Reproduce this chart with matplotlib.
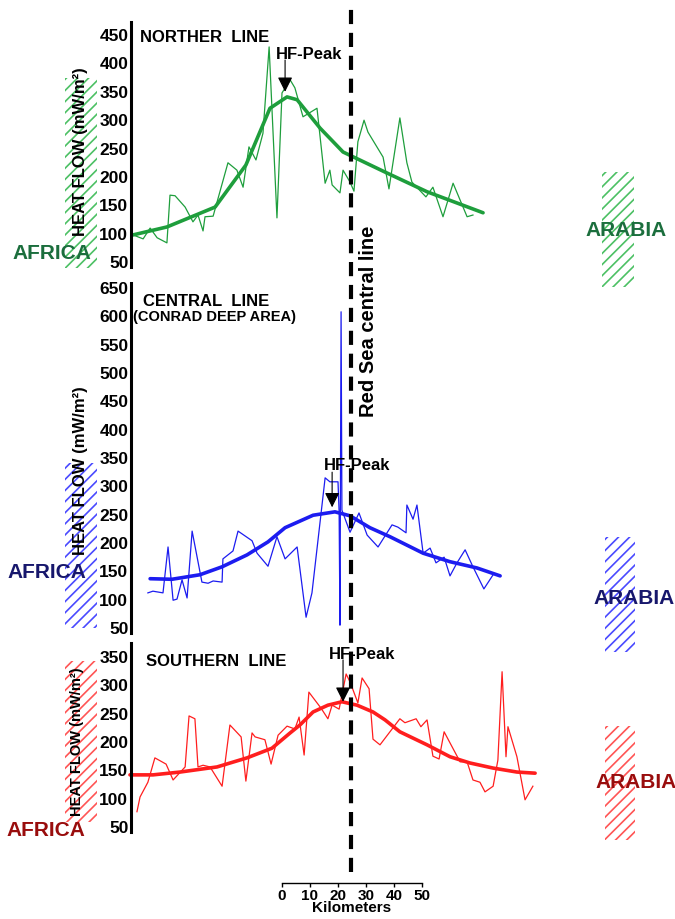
import matplotlib.pyplot as plt
from matplotlib.patches import Rectangle

plt.rcParams['font.family'] = ['Liberation Sans', 'DejaVu Sans']
plt.rcParams['hatch.linewidth'] = 1.2

W, H = 675, 919
# scale bar: 0 km sits at x=282 px, 2.8 px per km
KM0, KMPX = 282, 2.8
XLIM = (-KM0 / KMPX, (W - KM0) / KMPX)
AXIS_KM = -53.9
REDSEA_KM = 24.6

# ---- northern line (green)
north_km = [-53.2, -49.6, -47.1, -44.6, -41.1, -40.0, -38.2, -34.6, -31.8, -30.0, -28.2, -27.5,
            -24.6, -19.3, -16.1, -13.9, -11.8, -9.3, -6.8, -4.6, -1.8, 0.0, 2.9, 4.6, 7.5, 12.5,
            15.4, 17.1, 17.9, 20.7, 21.8, 24.3, 25.7, 27.1, 29.3, 30.7, 36.1, 38.2, 42.1, 44.6,
            46.4, 51.4, 53.9, 57.5, 61.1, 66.1, 68.2]
north_hf = [98, 91, 110, 93, 84, 168, 167, 147, 121, 133, 105, 130,
            131, 225, 212, 182, 253, 230, 277, 429, 128, 348, 371, 357, 306, 321,
            189, 212, 186, 172, 212, 191, 175, 262, 300, 279, 235, 179, 304, 225,
            191, 165, 182, 130, 189, 130, 133]
north_trend_km = [-53.2, -41.1, -23.9, -12.9, -4.3, 1.8, 5.4, 13.6, 21.8, 37.5, 51.8, 71.8]
north_trend_hf = [98, 112, 147, 221, 321, 341, 336, 286, 244, 207, 174, 137]

# ---- central line (blue)
central_km = [-47.9, -46.1, -42.5, -40.7, -38.9, -37.5, -35.7, -33.9, -32.1, -28.6, -26.4, -24.6,
              -21.4, -21.1, -17.5, -15.7, -10.7, -8.9, -5.0, -1.8, 1.1, 5.4, 8.6, 10.7, 15.4,
              17.1, 20.0, 20.4, 20.7, 21.1, 21.4, 24.3, 27.5, 30.4, 34.3, 39.3, 41.4, 44.3,
              44.6, 46.8, 48.2, 50.4, 52.9, 55.0, 57.9, 60.0, 62.5, 65.4, 68.2, 72.1, 75.4]
central_hf = [112, 115, 112, 193, 99, 101, 135, 103, 221, 131, 129, 133,
              131, 172, 186, 221, 204, 182, 159, 211, 172, 193, 69, 112, 315,
              308, 308, 255, 55, 608, 258, 219, 253, 214, 193, 232, 228, 218,
              267, 242, 267, 182, 191, 165, 175, 142, 165, 188, 158, 119, 144]
central_trend_km = [-47.1, -39.3, -29.3, -21.4, -12.5, -5.0, 1.1, 11.1, 18.9, 24.3, 31.4, 38.6,
                    50.4, 60.0, 69.6, 77.9]
central_trend_hf = [137, 136, 144, 158, 179, 202, 227, 249, 255, 248, 227, 211,
                    182, 167, 156, 142]

# ---- southern line (red)
south_km = [-51.8, -50.7, -47.9, -45.4, -41.4, -38.9, -34.6, -33.2, -31.1, -30.0, -28.2, -25.7,
            -21.4, -18.6, -14.6, -12.9, -10.7, -9.6, -6.1, -3.9, -1.4, 1.8, 4.6, 6.1, 7.9, 9.6,
            13.9, 16.4, 17.9, 20.4, 22.9, 24.3, 27.1, 28.6, 31.1, 32.5, 35.0, 42.1, 43.9, 47.9,
            49.6, 51.8, 53.9, 56.1, 57.9, 63.6, 66.1, 68.2, 70.7, 72.5, 75.4, 77.1, 78.6, 80.0,
            80.7, 83.9, 86.8, 89.6]
south_hf = [77, 103, 129, 172, 161, 133, 156, 246, 241, 156, 159, 156,
            122, 230, 209, 131, 216, 209, 204, 161, 212, 228, 223, 244, 177, 288,
            260, 241, 265, 258, 320, 306, 269, 313, 294, 205, 195, 241, 234, 241,
            227, 239, 175, 170, 218, 165, 165, 133, 129, 112, 122, 168, 324, 174,
            227, 174, 98, 122]
south_trend_km = [-54.3, -46.1, -36.4, -23.2, -12.5, -3.6, 2.9, 6.4, 11.1, 16.4, 21.4, 26.8,
                  32.5, 36.8, 42.1, 51.8, 60.0, 67.1, 75.4, 83.9, 90.4]
south_trend_hf = [142, 142, 147, 156, 172, 189, 216, 230, 253, 265, 271, 265,
                  253, 239, 218, 195, 174, 163, 154, 147, 145]

north_ticks = list(range(50, 451, 50))
central_ticks = list(range(50, 651, 50))
south_ticks = list(range(50, 351, 50))
scale_ticks = [0, 10, 20, 30, 40, 50]

GREEN, GREEN_D, GREEN_H = '#1e9e3c', '#1b6e3d', '#4cc064'
BLUE, BLUE_D, BLUE_H = '#1c1cf0', '#17176c', '#4a4aff'
RED, RED_D, RED_H = '#ff1e1e', '#990d0d', '#ff5555'

fig = plt.figure(figsize=(W / 100, H / 100), dpi=100)


def fx(px):
    return px / W


def fy(py):
    return 1 - py / H


def panel(top, bot, ylim, ticks, km, hf, tkm, thf, color):
    ax = fig.add_axes([0, fy(bot), 1, (bot - top) / H])
    ax.set_xlim(XLIM)
    ax.set_ylim(ylim)
    ax.patch.set_visible(False)
    for s in ['top', 'right', 'bottom']:
        ax.spines[s].set_visible(False)
    ax.spines['left'].set_position(('data', AXIS_KM))
    ax.spines['left'].set_linewidth(2.2)
    ax.set_xticks([])
    ax.set_yticks(ticks)
    ax.tick_params(axis='y', length=0, pad=2, labelsize=12.5)
    for lab in ax.get_yticklabels():
        lab.set_fontweight('bold')
    ax.plot(km, hf, color=color, lw=0.9)
    ax.plot(tkm, thf, color=color, lw=2.6, solid_capstyle='round')
    return ax


ax1 = panel(22, 267, (41.5, 472.9), north_ticks, north_km, north_hf,
            north_trend_km, north_trend_hf, GREEN)
ax2 = panel(283, 633, (41.2, 658.8), central_ticks, central_km, central_hf,
            central_trend_km, central_trend_hf, BLUE)
ax3 = panel(643, 832, (41.2, 374.7), south_ticks, south_km, south_hf,
            south_trend_km, south_trend_hf, RED)

# HF-Peak arrows
arrow = dict(arrowstyle='-|>,head_length=0.9,head_width=0.45', mutation_scale=10,
             lw=0.8, color='k', shrinkA=0, shrinkB=0)
for ax, tip, tail, txt in [(ax1, (1.1, 350), (1.1, 406), (9.6, 415)),
                           (ax2, (17.9, 263), (17.9, 325), (26.8, 336)),
                           (ax3, (21.8, 271), (21.8, 345), (28.6, 355))]:
    ax.annotate('', xy=tip, xytext=tail, arrowprops=arrow)
    ax.text(txt[0], txt[1], 'HF-Peak', ha='center', va='center',
            fontsize=12, fontweight='bold')

# hatched side boxes
boxes = [(65, 78, 32, 190, GREEN_H), (602, 172, 32, 115, GREEN_H),
         (65, 463, 32, 165, BLUE_H), (605, 537, 30, 115, BLUE_H),
         (65, 661, 32, 161, RED_H), (605, 726, 30, 114, RED_H)]
for x0, y0, w, h, c in boxes:
    fig.add_artist(Rectangle((fx(x0), fy(y0 + h)), w / W, h / H, transform=fig.transFigure,
                             fill=False, hatch='///', edgecolor=c, lw=0, zorder=1))

# Red Sea central line
ov = fig.add_axes([0, 0, 1, 1], zorder=5)
ov.set_xlim(XLIM)
ov.axis('off')
ov.axvline(REDSEA_KM, ymin=fy(872), ymax=fy(5), color='k', lw=3, dashes=(3.4, 2.1))
fig.text(fx(369), fy(321), 'Red Sea central line', rotation=90, ha='center', va='center',
         fontsize=14.5, fontweight='bold', zorder=6)

# titles
fig.text(fx(140), fy(37), 'NORTHER  LINE', fontsize=12, fontweight='bold', va='center')
fig.text(fx(143), fy(301), 'CENTRAL  LINE', fontsize=12, fontweight='bold', va='center')
fig.text(fx(133), fy(317), '(CONRAD DEEP AREA)', fontsize=10.5, fontweight='bold', va='center')
fig.text(fx(146), fy(662), 'SOUTHERN  LINE', fontsize=12, fontweight='bold', va='center')

# y labels
for x, y, fs in [(80, 152, 12), (80, 471, 12), (77, 742, 10.5)]:
    fig.text(fx(x), fy(y), 'HEAT FLOW (mW/m²)', rotation=90, ha='center', va='center',
             fontsize=fs, fontweight='bold', zorder=3)

# plate labels
for x, y, txt, c in [(12, 253, 'AFRICA', GREEN_D), (585, 230, 'ARABIA', GREEN_D),
                     (7, 573, 'AFRICA', BLUE_D), (593, 598, 'ARABIA', BLUE_D),
                     (6, 830, 'AFRICA', RED_D), (595, 783, 'ARABIA', RED_D)]:
    fig.text(fx(x), fy(y), txt, color=c, fontsize=15, fontweight='bold', va='center', zorder=3)

# kilometre scale bar
sb = fig.add_axes([fx(282), fy(883), 140 / W, 0.0005])
sb.set_xlim(0, 50)
sb.patch.set_visible(False)
for s in ['top', 'right', 'left']:
    sb.spines[s].set_visible(False)
sb.spines['bottom'].set_linewidth(1)
sb.set_yticks([])
sb.set_xticks(scale_ticks)
sb.tick_params(axis='x', length=3, width=1, pad=1, labelsize=11)
for lab in sb.get_xticklabels():
    lab.set_fontweight('bold')
sb.set_xlabel('Kilometers', fontsize=11, fontweight='bold', labelpad=-1)

fig.savefig('out.png', dpi=100)
